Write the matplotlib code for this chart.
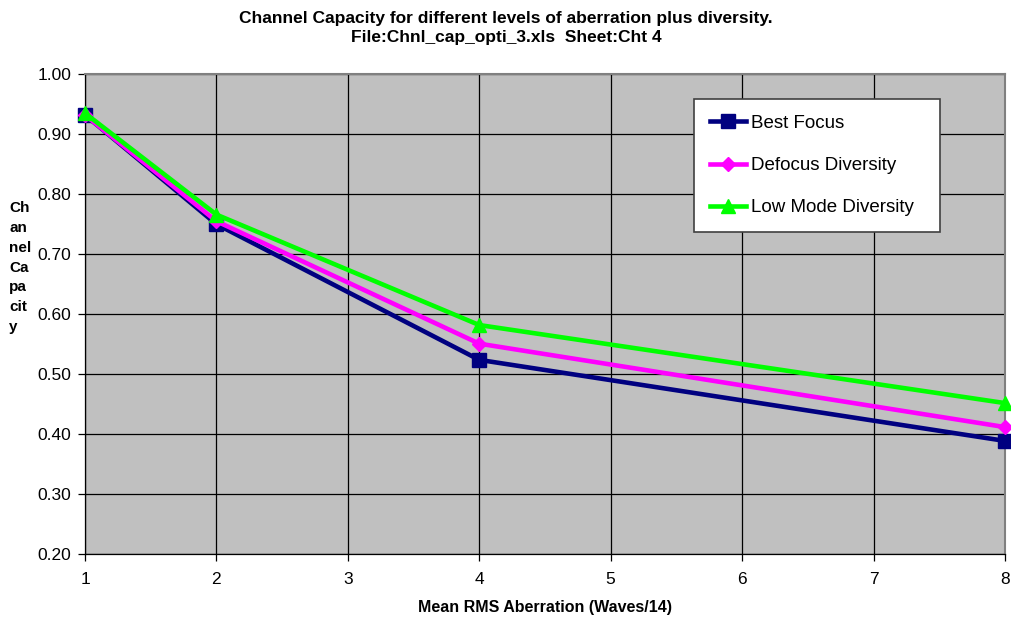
import matplotlib
matplotlib.use("Agg")
import matplotlib.pyplot as plt

plt.rcParams['font.family'] = ['Liberation Sans', 'DejaVu Sans']

aberration = [1, 2, 4, 8]
best_focus = [0.932, 0.750, 0.524, 0.389]
defocus_diversity = [0.932, 0.755, 0.551, 0.412]
low_mode_diversity = [0.935, 0.766, 0.582, 0.452]

x_ticks = [1, 2, 3, 4, 5, 6, 7, 8]
y_ticks = [0.20, 0.30, 0.40, 0.50, 0.60, 0.70, 0.80, 0.90, 1.00]

fig = plt.figure(figsize=(10.12, 6.18), dpi=100)
fig.patch.set_facecolor('white')
ax = fig.add_axes([0.084, 0.103, 0.909, 0.777])
ax.set_facecolor('#c0c0c0')

ax.plot(aberration, best_focus, color='#000080', lw=3.3, marker='s', ms=9.5,
        markeredgecolor='#000080', label='Best Focus', zorder=3, clip_on=False)
ax.plot(aberration, defocus_diversity, color='#ff00ff', lw=3.3, marker='D', ms=7.5,
        markeredgecolor='#ff00ff', label='Defocus Diversity', zorder=4, clip_on=False)
ax.plot(aberration, low_mode_diversity, color='#00ff00', lw=3.3, marker='^', ms=10,
        markeredgecolor='#00ff00', label='Low Mode Diversity', zorder=5, clip_on=False)

ax.set_xlim(1, 8)
ax.set_ylim(0.2, 1.0)
ax.set_xticks(x_ticks)
ax.set_yticks(y_ticks)
ax.set_yticklabels([f"{v:.2f}" for v in y_ticks])
ax.grid(True, color='black', lw=0.9)
ax.set_axisbelow(True)
ax.tick_params(axis='both', direction='out', length=5, width=0.9, labelsize=12.5,
               colors='black')
ax.tick_params(axis='y', pad=5)
ax.tick_params(axis='x', pad=8)

for side in ['top', 'right']:
    ax.spines[side].set_color('#808080')
    ax.spines[side].set_linewidth(1.5)
for side in ['left', 'bottom']:
    ax.spines[side].set_color('black')
    ax.spines[side].set_linewidth(0.9)

ax.set_xlabel('Mean RMS Aberration (Waves/14)', fontsize=11.5, fontweight='bold', labelpad=9)
fig.text(0.009, 0.567, 'Ch\nan\nnel\nCa\npa\ncit\ny', fontsize=11, fontweight='bold',
         ha='left', va='center', linespacing=1.52)

fig.text(0.5, 0.982, 'Channel Capacity for different levels of aberration plus diversity.\n'
         'File:Chnl_cap_opti_3.xls  Sheet:Cht 4', fontsize=12.5, fontweight='bold',
         ha='center', va='top', linespacing=1.3)

leg = ax.legend(loc='upper left', bbox_to_anchor=(0.662, 0.678, 0.2674, 0.2705),
                mode='expand', fontsize=13.5,
                frameon=True, fancybox=False, borderpad=0.85, labelspacing=1.34,
                handlelength=1.9, handletextpad=0.3, borderaxespad=0)
leg.get_frame().set_facecolor('white')
leg.get_frame().set_edgecolor('#404040')
leg.get_frame().set_linewidth(1.2)
leg.get_frame().set_alpha(1)

fig.savefig('out.png', dpi=100)
